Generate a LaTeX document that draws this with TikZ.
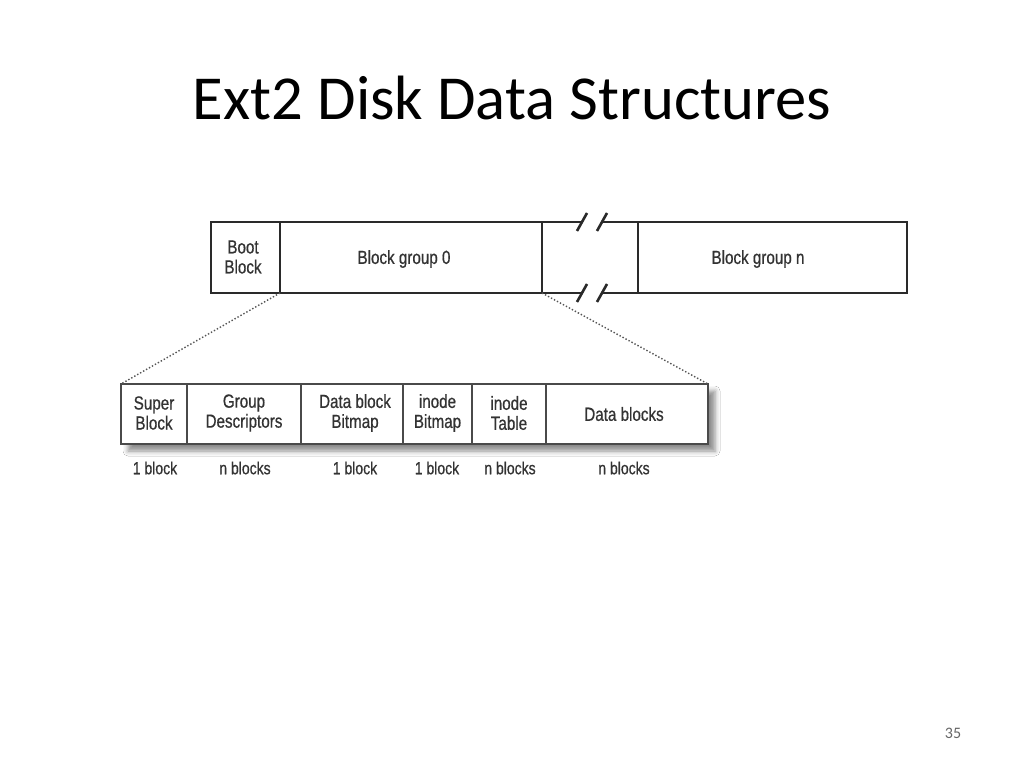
\documentclass[tikz,border=0pt]{standalone}
\usepackage{fontspec}
\setmainfont{Carlito}
\newfontfamily\cond[FakeStretch=0.80,FakeBold=0.6]{Liberation Sans}
\usetikzlibrary{shadows.blur}
\definecolor{ink}{HTML}{2A2A2A}
\definecolor{txt}{HTML}{333333}
\tikzset{
  topline/.style={draw=ink, line width=2.8pt},
  botline/.style={draw=ink!85, line width=2.1pt},
  lbl/.style={font=\cond\fontsize{19}{20}\selectfont, text=txt, align=center, inner sep=0pt},
  sub/.style={font=\cond\fontsize{17.5}{18}\selectfont, text=txt, inner sep=0pt},
  zoomline/.style={draw=ink!80, line width=1.4pt, dotted}
}
\begin{document}
\begin{tikzpicture}[x=1pt,y=-1pt]
\useasboundingbox[fill=white] (0,0) rectangle (1024,768);
% title
\node[font=\fontsize{62.6}{70}\selectfont, inner sep=0pt] (title) at (512,98) {Ext2 Disk Data Structures};
\node[font=\fontsize{16}{18}\selectfont, text=black!60, inner sep=0pt] (pnum) at (953,733) {35};
% top row coordinates
\coordinate (tA) at (211,222); \coordinate (tAb) at (211,293);
\coordinate (tB) at (280,222); \coordinate (tBb) at (280,293);
\coordinate (tC) at (542,222); \coordinate (tCb) at (542,293);
\coordinate (tD) at (638,222); \coordinate (tDb) at (638,293);
\coordinate (tE) at (907,222); \coordinate (tEb) at (907,293);
\coordinate (g1) at (582,222); \coordinate (g2) at (602,222);
\coordinate (g1b) at (582,293); \coordinate (g2b) at (602,293);
% top row lines
\draw[topline] (g1) -- (tA) -- (tAb) -- (g1b);
\draw[topline] (g2) -- (tE) -- (tEb) -- (g2b);
\draw[topline] (tB) -- (tBb);
\draw[topline] (tC) -- (tCb);
\draw[topline] (tD) -- (tDb);
% break slashes
\foreach \x in {582,602}{
  \draw[draw=ink, line width=2.6pt] (\x-5,231) -- (\x+5,213);
  \draw[draw=ink, line width=2.6pt] (\x-5,302) -- (\x+5,284);
}
\node[lbl] (boot) at (243,257) {Boot\\Block};
\node[lbl] (bg0) at (404,259) {Block group 0};
\node[lbl] (bgn) at (758,259) {Block group n};
% bottom row
\coordinate (b0) at (121,384); \coordinate (b0b) at (121,444);
\coordinate (b6) at (708,384); \coordinate (b6b) at (708,444);
\path[fill=white, blur shadow={shadow xshift=7pt, shadow yshift=-7pt, shadow blur radius=5pt, shadow opacity=45}] (b0) rectangle (b6b);
\draw[botline] (b0) rectangle (b6b);
\foreach \x in {187,301,403,472,546}{
  \draw[botline] (\x,384) -- (\x,444);
}
\node[lbl] (sb) at (154,413) {Super\\Block};
\node[lbl] (gd) at (244,413) {Group\\Descriptors};
\node[lbl] (dbb) at (355,413) {Data block\\Bitmap};
\node[lbl] (ib) at (437.5,413) {inode\\Bitmap};
\node[lbl] (it) at (509,413) {inode\\Table};
\node[lbl] (db) at (624,414) {Data blocks};
\node[sub] (s1) at (155,468) {1 block};
\node[sub] (s2) at (245,468) {n blocks};
\node[sub] (s3) at (355,468) {1 block};
\node[sub] (s4) at (437,468) {1 block};
\node[sub] (s5) at (510,468) {n blocks};
\node[sub] (s6) at (624,468) {n blocks};
% zoom lines
\draw[zoomline] (tBb) -- (b0);
\draw[zoomline] (tCb) -- (b6);
\end{tikzpicture}
\end{document}
